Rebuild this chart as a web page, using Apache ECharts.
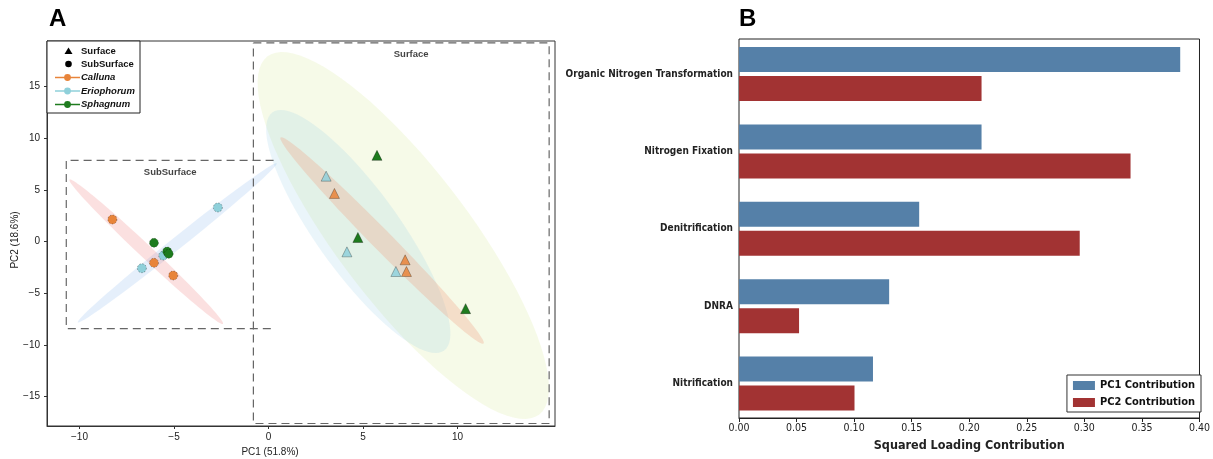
<!DOCTYPE html>
<html>
<head>
<meta charset="utf-8">
<script src="https://cdn.jsdelivr.net/npm/echarts@6/dist/echarts.min.js"></script>
<style>
  html, body { margin: 0; padding: 0; background: #fff; }
  #chart { width: 1213px; height: 459px; }
</style>
</head>
<body>
<div id="chart"></div>
<script>
// ---- panel A : PCA scores ----
const pcaXTicks = [-10, -5, 0, 5, 10]
const pcaYTicks = [-15, -10, -5, 0, 5, 10, 15]

const callunaSurface = [[3.49, 4.65], [7.23, -1.77], [7.3, -2.9]]
const callunaSub = [[-8.26, 2.13], [-6.06, -2.06], [-5.04, -3.29]]
const eriophorumSurface = [[3.05, 6.32], [4.15, -1.0], [6.74, -2.9]]
const eriophorumSub = [[-2.68, 3.29], [-6.7, -2.58], [-5.57, -1.36]]
const sphagnumSurface = [[5.74, 8.33], [4.73, 0.39], [10.43, -6.49]]
const sphagnumSub = [[-6.06, -0.13], [-5.36, -0.97], [-5.28, -1.19]]

// confidence ellipses: centre x, centre y, major half-axis (dx, dy), minor half-axis (dx, dy)
const sphagnumSurfaceEllipse = [7.13, 0.58, 7.2, -17.3, 2.75, 3.95]
const eriophorumSurfaceEllipse = [4.75, 0.97, 4.55, -11.5, 1.75, 2.4]
const callunaSurfaceEllipse = [6.01, 0.1, 5.37, -9.97, 0.38, 0.68]
const eriophorumSubEllipse = [-4.83, -0.13, 5.26, 7.69, 0.2, -0.453]
const callunaSubEllipse = [-6.47, -0.99, 4.06, -6.98, 0.237, 0.458]

// dashed regions (data coords)
const surfaceBox = [[-0.8, 19.2], [14.85, 19.2], [14.85, -17.6], [-0.8, -17.6], [-0.8, 19.2]]
const subSurfaceBox = [[0.27, 7.84], [-10.7, 7.84], [-10.7, -8.42], [0.27, -8.42]]
const boxLabels = [{ name: 'Surface', value: [7.55, 18.1] }, { name: 'SubSurface', value: [-5.2, 6.7] }]

// ---- panel B : squared loadings ----
const processes = ['Organic Nitrogen Transformation', 'Nitrogen Fixation', 'Denitrification', 'DNRA', 'Nitrification']
const pc1Contribution = [0.382, 0.21, 0.156, 0.13, 0.116]
const pc2Contribution = [0.21, 0.339, 0.295, 0.052, 0.1]

const COLORS = {
  calluna: '#e8843a',
  eriophorum: '#8fd0da',
  sphagnum: '#1e7b1e',
  pc1: '#5580a8',
  pc2: '#a23333',
}
const FONT_A = 'Liberation Sans, Arial, sans-serif'
const FONT_B = 'DejaVu Sans Condensed, DejaVu Sans, sans-serif'

const minus = v => String(v).replace('-', '\u2212')

function ellipseItem(params, api) {
  const cx = api.value(0), cy = api.value(1)
  const ax = api.value(2), ay = api.value(3)
  const bx = api.value(4), by = api.value(5)
  const pts = []
  for (let i = 0; i < 90; i++) {
    const t = (i / 90) * Math.PI * 2
    pts.push(api.coord([cx + Math.cos(t) * ax + Math.sin(t) * bx, cy + Math.cos(t) * ay + Math.sin(t) * by]))
  }
  const cs = params.coordSys
  return {
    type: 'polygon',
    shape: { points: pts },
    style: { fill: api.visual('color') },
    clipPath: { type: 'rect', shape: { x: cs.x, y: cs.y, width: cs.width, height: cs.height } },
  }
}

function ellipse(data, color) {
  return {
    type: 'custom',
    xAxisIndex: 0,
    yAxisIndex: 0,
    renderItem: ellipseItem,
    data: [data],
    encode: { x: 0, y: 1 },
    itemStyle: { color },
    silent: true,
    z: 1,
  }
}

function points(data, symbol, color, size, opacity) {
  return {
    type: 'scatter',
    xAxisIndex: 0,
    yAxisIndex: 0,
    data,
    symbol,
    symbolSize: size,
    itemStyle: {
      color,
      opacity,
      borderColor: 'rgba(0,0,0,0.45)',
      borderWidth: 0.7,
      borderType: symbol === 'circle' ? [1.5, 1.5] : 'solid',
    },
    z: 5,
  }
}

function dashedBox(data) {
  return {
    type: 'line',
    xAxisIndex: 0,
    yAxisIndex: 0,
    data,
    showSymbol: false,
    symbol: 'none',
    lineStyle: { color: '#666', width: 1.2, type: [8, 5] },
    silent: true,
    z: 3,
  }
}

// legend for panel A drawn by hand (shapes + species lines)
function legendA() {
  const x0 = 47, y0 = 41
  const rows = [
    { label: 'Surface', y: 51, shape: 'tri' },
    { label: 'SubSurface', y: 64, shape: 'dot' },
    { label: 'Calluna', y: 77.5, color: COLORS.calluna },
    { label: 'Eriophorum', y: 91, color: COLORS.eriophorum },
    { label: 'Sphagnum', y: 104.5, color: COLORS.sphagnum },
  ]
  const els = [{
    type: 'rect',
    shape: { x: x0, y: y0, width: 93, height: 72 },
    style: { fill: '#fff', stroke: '#222', lineWidth: 1 },
    z: 20,
  }]
  rows.forEach(r => {
    if (r.shape === 'tri') {
      els.push({ type: 'polygon', shape: { points: [[68.5, r.y - 3.5], [72.5, r.y + 3], [64.5, r.y + 3]] }, style: { fill: '#000' }, z: 21 })
    } else if (r.shape === 'dot') {
      els.push({ type: 'circle', shape: { cx: 68.5, cy: r.y, r: 3.3 }, style: { fill: '#000' }, z: 21 })
    } else {
      els.push({ type: 'line', shape: { x1: 55, y1: r.y, x2: 80, y2: r.y }, style: { stroke: r.color, lineWidth: 1.5 }, z: 21 })
      els.push({ type: 'circle', shape: { cx: 67.5, cy: r.y, r: 3.4 }, style: { fill: r.color }, z: 22 })
    }
    els.push({
      type: 'text',
      x: 81,
      y: r.y,
      style: {
        text: r.label,
        font: (r.shape ? '' : 'italic ') + 'bold 9.5px ' + FONT_A,
        fill: '#111',
        verticalAlign: 'middle',
      },
      z: 22,
    })
  })
  return els
}

const chart = echarts.init(document.getElementById('chart'))
chart.setOption({
  animation: false,
  backgroundColor: '#fff',
  title: [
    { text: 'A', left: 44, top: 2, textStyle: { fontFamily: FONT_A, fontWeight: 'bold', fontSize: 24, color: '#000' } },
    { text: 'B', left: 734, top: 2, textStyle: { fontFamily: FONT_A, fontWeight: 'bold', fontSize: 24, color: '#000' } },
  ],
  grid: [
    { left: 47, top: 41, width: 508, height: 385, show: true, borderColor: '#333', borderWidth: 1 },
    // bar placement grid (no frame)
    { left: 739, top: 35.3, width: 462, height: 387 },
    // visible frame of panel B
    { left: 739, top: 39, width: 462, height: 379, show: true, borderColor: '#222', borderWidth: 1 },
  ],
  legend: {
    data: ['PC1 Contribution', 'PC2 Contribution'],
    orient: 'vertical',
    right: 12,
    top: 375,
    padding: [5, 6, 4, 6],
    itemGap: 6,
    itemWidth: 22,
    itemHeight: 9,
    icon: 'rect',
    borderColor: '#333',
    borderWidth: 1,
    backgroundColor: '#fff',
    textStyle: { fontFamily: FONT_B, fontWeight: 'bold', fontSize: 11, color: '#111' },
  },
  xAxis: [
    {
      gridIndex: 0,
      type: 'value',
      min: -11.72,
      max: 15.16,
      splitLine: { show: false },
      axisLine: { onZero: false, lineStyle: { color: '#333' } },
      axisTick: { customValues: pcaXTicks, length: 3, lineStyle: { color: '#333' } },
      axisLabel: { customValues: pcaXTicks, formatter: minus, fontFamily: FONT_A, fontSize: 10, color: '#222', margin: 6 },
    },
    {
      gridIndex: 1,
      type: 'value',
      min: 0,
      max: 0.4,
      show: false,
    },
    {
      gridIndex: 2,
      type: 'value',
      min: 0,
      max: 0.4,
      interval: 0.05,
      splitLine: { show: false },
      axisLine: { lineStyle: { color: '#222' } },
      axisTick: { length: 4, lineStyle: { color: '#222' } },
      axisLabel: { formatter: v => v.toFixed(2), fontFamily: FONT_B, fontSize: 10.5, color: '#222', margin: 5 },
      name: 'Squared Loading Contribution',
      nameLocation: 'middle',
      nameGap: 17,
      nameTextStyle: { fontFamily: FONT_B, fontWeight: 'bold', fontSize: 12.5, color: '#222', verticalAlign: 'top' },
    },
  ],
  yAxis: [
    {
      gridIndex: 0,
      type: 'value',
      min: -17.84,
      max: 19.39,
      splitLine: { show: false },
      axisLine: { onZero: false, lineStyle: { color: '#333' } },
      axisTick: { customValues: pcaYTicks, length: 3, lineStyle: { color: '#333' } },
      axisLabel: { customValues: pcaYTicks, formatter: minus, fontFamily: FONT_A, fontSize: 10, color: '#222', margin: 7 },
    },
    {
      gridIndex: 1,
      type: 'category',
      data: processes,
      inverse: true,
      axisLine: { show: false },
      axisTick: { alignWithLabel: true, length: 4, lineStyle: { color: '#222' } },
      axisLabel: { fontFamily: FONT_B, fontWeight: 'bold', fontSize: 10, color: '#222', margin: 6 },
    },
    {
      gridIndex: 2,
      type: 'value',
      show: false,
    },
  ],
  graphic: [
    ...legendA(),
    { type: 'text', x: 270, y: 452, style: { text: 'PC1 (51.8%)', font: '10px ' + FONT_A, fill: '#222', align: 'center', verticalAlign: 'middle' } },
    { type: 'text', x: 15, y: 240, rotation: Math.PI / 2, style: { text: 'PC2 (18.6%)', font: '10px ' + FONT_A, fill: '#222', align: 'center', verticalAlign: 'middle' } },
  ],
  series: [
    ellipse(sphagnumSurfaceEllipse, 'rgba(214,232,150,0.22)'),
    ellipse(eriophorumSurfaceEllipse, 'rgba(150,205,230,0.2)'),
    ellipse(callunaSurfaceEllipse, 'rgba(240,160,130,0.3)'),
    ellipse(eriophorumSubEllipse, 'rgba(150,190,240,0.25)'),
    ellipse(callunaSubEllipse, 'rgba(240,130,130,0.25)'),
    dashedBox(surfaceBox),
    dashedBox(subSurfaceBox),
    {
      type: 'scatter',
      xAxisIndex: 0,
      yAxisIndex: 0,
      data: boxLabels,
      symbolSize: 1,
      itemStyle: { color: 'rgba(0,0,0,0)' },
      label: { show: true, position: 'inside', formatter: '{b}', fontFamily: FONT_A, fontWeight: 'bold', fontSize: 9.5, color: '#111' },
      silent: true,
      z: 6,
    },
    points(callunaSurface, 'triangle', COLORS.calluna, 10, 0.85),
    points(eriophorumSurface, 'triangle', COLORS.eriophorum, 10, 0.85),
    points(sphagnumSurface, 'triangle', COLORS.sphagnum, 10, 1),
    points(callunaSub, 'circle', COLORS.calluna, 9, 1),
    points(eriophorumSub, 'circle', COLORS.eriophorum, 9, 1),
    points(sphagnumSub, 'circle', COLORS.sphagnum, 9, 1),
    {
      name: 'PC1 Contribution',
      type: 'bar',
      xAxisIndex: 1,
      yAxisIndex: 1,
      data: pc1Contribution,
      barWidth: 25,
      barGap: '16%',
      itemStyle: { color: COLORS.pc1 },
    },
    {
      name: 'PC2 Contribution',
      type: 'bar',
      xAxisIndex: 1,
      yAxisIndex: 1,
      data: pc2Contribution,
      barWidth: 25,
      barGap: '16%',
      itemStyle: { color: COLORS.pc2 },
    },
  ],
})
</script>
</body>
</html>
